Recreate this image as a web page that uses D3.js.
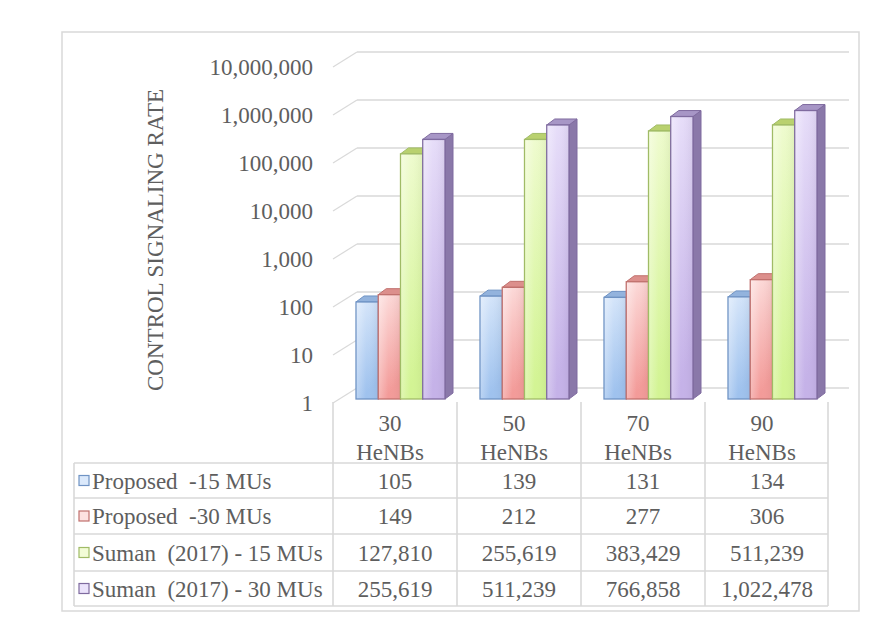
<!DOCTYPE html>
<html>
<head>
<meta charset="utf-8">
<script src="https://cdn.jsdelivr.net/npm/d3@7"></script>
<style>
  html, body { margin: 0; padding: 0; background: #fff; }
  svg { display: block; }
  text { font-family: "Liberation Serif", "Times New Roman", serif; fill: #5e5e5e; }
</style>
</head>
<body>
<svg id="chart" width="879" height="641"></svg>
<script>
// ---------- data ----------
const categories = ["30 HeNBs", "50 HeNBs", "70 HeNBs", "90 HeNBs"];
const seriesNames = ["Proposed  -15 MUs", "Proposed  -30 MUs", "Suman  (2017) - 15 MUs", "Suman  (2017) - 30 MUs"];
const proposed15 = [105, 139, 131, 134];
const proposed30 = [149, 212, 277, 306];
const suman15 = [127810, 255619, 383429, 511239];
const suman30 = [255619, 511239, 766858, 1022478];
const tickValues = [1, 10, 100, 1000, 10000, 100000, 1000000, 10000000];
const yTitle = "CONTROL SIGNALING RATE";

const seriesValues = [proposed15, proposed30, suman15, suman30];

// ---------- styles ----------
const palette = [
  { top: "#dbe9fb", bottom: "#9fc2ee", stroke: "#6f93c4", cap: "#93b3dd", side: "#7f9fcc" },
  { top: "#fde1e0", bottom: "#f39b99", stroke: "#c0706d", cap: "#dc8f8c", side: "#c47d7a" },
  { top: "#f2fcd6", bottom: "#d3f494", stroke: "#a0bb66", cap: "#b9d16f", side: "#a3bd62" },
  { top: "#ebe3fb", bottom: "#c5b2e8", stroke: "#7f6b9f", cap: "#a796c6", side: "#8a78a9" }
];

const svg = d3.select("#chart");
const fmt = d3.format(",");

// ---------- geometry ----------
const frame = { x0: 62, y0: 32, x1: 859, y1: 611 };
const plotX0 = 333, plotX1 = 829;
const depth = { dx: 24, dy: -15 };     // wall depth
const barDepth = { dx: 8, dy: -6 };    // bar depth

const yFront = d3.scaleLog().domain([1, 1e7]).range([403, 67]);
const yBack = d3.scaleLog().domain([1, 1e7]).range([388, 52]);
const yBar = d3.scaleLog().domain([1, 1e7]).range([399, 63]);

const xCat = d3.scaleBand().domain(categories).range([plotX0, plotX1]).padding(0);
const xSer = d3.scaleBand().domain(seriesNames).range([23, 112]).padding(0);

// gradients
const defs = svg.append("defs");
palette.forEach((p, i) => {
  const g = defs.append("linearGradient").attr("id", "grad" + i)
    .attr("x1", 0).attr("y1", 0).attr("x2", 0.25).attr("y2", 1);
  g.append("stop").attr("offset", "0%").attr("stop-color", p.top);
  g.append("stop").attr("offset", "100%").attr("stop-color", p.bottom);
  const h = defs.append("linearGradient").attr("id", "hgrad" + i)
    .attr("x1", 0).attr("y1", 0).attr("x2", 1).attr("y2", 0);
  h.append("stop").attr("offset", "0%").attr("stop-color", "#ffffff").attr("stop-opacity", 0.25);
  h.append("stop").attr("offset", "45%").attr("stop-color", "#ffffff").attr("stop-opacity", 0.0);
  h.append("stop").attr("offset", "100%").attr("stop-color", "#000000").attr("stop-opacity", 0.04);
});

// frame
svg.append("rect")
  .attr("x", frame.x0).attr("y", frame.y0)
  .attr("width", frame.x1 - frame.x0).attr("height", frame.y1 - frame.y0)
  .attr("fill", "#fff").attr("stroke", "#d9d9d9").attr("stroke-width", 1.5);

// gridlines (back wall + diagonal side wall edge)
const grid = svg.append("g");
tickValues.forEach(v => {
  grid.append("line")
    .attr("x1", plotX0 + depth.dx).attr("x2", plotX1 + 20)
    .attr("y1", yBack(v)).attr("y2", yBack(v))
    .attr("stroke", "#d9d9d9").attr("stroke-width", 1.6);
  grid.append("line")
    .attr("x1", plotX0).attr("y1", yFront(v))
    .attr("x2", plotX0 + depth.dx).attr("y2", yBack(v))
    .attr("stroke", "#d9d9d9").attr("stroke-width", 1.2);
});

// tick labels
const yAxis = d3.axisLeft(yFront).tickValues(tickValues).tickFormat(fmt).tickSize(0).tickPadding(20);
const axG = svg.append("g").attr("transform", `translate(${plotX0},0)`).call(yAxis);
axG.select(".domain").remove();
axG.selectAll("text")
  .attr("font-family", "Liberation Serif, serif")
  .attr("font-size", 23).attr("fill", "#5e5e5e").attr("dy", "0.32em");

// y title
svg.append("text")
  .attr("transform", `translate(163,240) rotate(-90)`)
  .attr("text-anchor", "middle")
  .attr("font-size", 23)
  .text(yTitle);

// bars
const barsG = svg.append("g");
categories.forEach((cat, ci) => {
  seriesNames.forEach((s, si) => {
    const v = seriesValues[si][ci];
    const x = xCat(cat) + xSer(s);
    const w = xSer.bandwidth();
    const yt = yBar(v), yb = yBar(1);
    const p = palette[si];
    const g = barsG.append("g");
    g.append("path")
      .attr("d", `M${x + w},${yt} L${x + w + barDepth.dx},${yt + barDepth.dy} L${x + w + barDepth.dx},${yb + barDepth.dy} L${x + w},${yb} Z`)
      .attr("fill", p.side).attr("stroke", p.stroke).attr("stroke-width", 1).attr("stroke-linejoin", "round");
    g.append("path")
      .attr("d", `M${x},${yt} L${x + barDepth.dx},${yt + barDepth.dy} L${x + w + barDepth.dx},${yt + barDepth.dy} L${x + w},${yt} Z`)
      .attr("fill", p.cap).attr("stroke", p.stroke).attr("stroke-width", 1).attr("stroke-linejoin", "round");
    g.append("rect")
      .attr("x", x).attr("y", yt).attr("width", w).attr("height", yb - yt)
      .attr("fill", `url(#grad${si})`).attr("stroke", p.stroke).attr("stroke-width", 1.3);
    g.append("rect")
      .attr("x", x + 0.7).attr("y", yt + 0.7).attr("width", w - 1.4).attr("height", Math.max(0, yb - yt - 1.4))
      .attr("fill", `url(#hgrad${si})`);
  });
});

// ---------- data table ----------
const tableLeft = 74;
const tableTop = 402;
const headerBottom = 463;
const rowLines = [463, 498, 534, 571, 606];
const tbl = svg.append("g");
const lineColor = "#d9d9d9";

const colEdges = categories.map(c => xCat(c)).concat([plotX1 - 1]);
colEdges.forEach(x => {
  tbl.append("line").attr("x1", x).attr("x2", x).attr("y1", tableTop).attr("y2", rowLines[rowLines.length - 1])
    .attr("stroke", lineColor).attr("stroke-width", 1.6);
});
tbl.append("line").attr("x1", tableLeft).attr("x2", tableLeft)
  .attr("y1", headerBottom).attr("y2", rowLines[rowLines.length - 1])
  .attr("stroke", lineColor).attr("stroke-width", 1.6);
rowLines.forEach(y => {
  tbl.append("line").attr("x1", tableLeft).attr("x2", plotX1 - 1).attr("y1", y).attr("y2", y)
    .attr("stroke", lineColor).attr("stroke-width", 1.6);
});

categories.forEach(cat => {
  const cx = xCat(cat) + xCat.bandwidth() / 2 - 5;
  const parts = cat.split(" ");
  tbl.append("text").attr("x", cx).attr("y", 431).attr("text-anchor", "middle").attr("font-size", 23).text(parts[0]);
  tbl.append("text").attr("x", cx).attr("y", 460).attr("text-anchor", "middle").attr("font-size", 23).text(parts[1]);
});

seriesNames.forEach((s, si) => {
  const yTop = rowLines[si], yBot = rowLines[si + 1];
  const cy = (yTop + yBot) / 2;
  const p = palette[si];
  tbl.append("rect")
    .attr("x", tableLeft + 5).attr("y", cy - 5).attr("width", 10).attr("height", 10)
    .attr("fill", p.top).attr("stroke", p.stroke).attr("stroke-width", 1.2);
  tbl.append("text")
    .attr("x", tableLeft + 18).attr("y", cy + 8)
    .attr("font-size", 23).attr("xml:space", "preserve")
    .style("white-space", "pre")
    .text(s);
  categories.forEach((cat, ci) => {
    tbl.append("text")
      .attr("x", xCat(cat) + xCat.bandwidth() / 2)
      .attr("y", cy + 8)
      .attr("text-anchor", "middle").attr("font-size", 23)
      .text(fmt(seriesValues[si][ci]));
  });
});
</script>
</body>
</html>
